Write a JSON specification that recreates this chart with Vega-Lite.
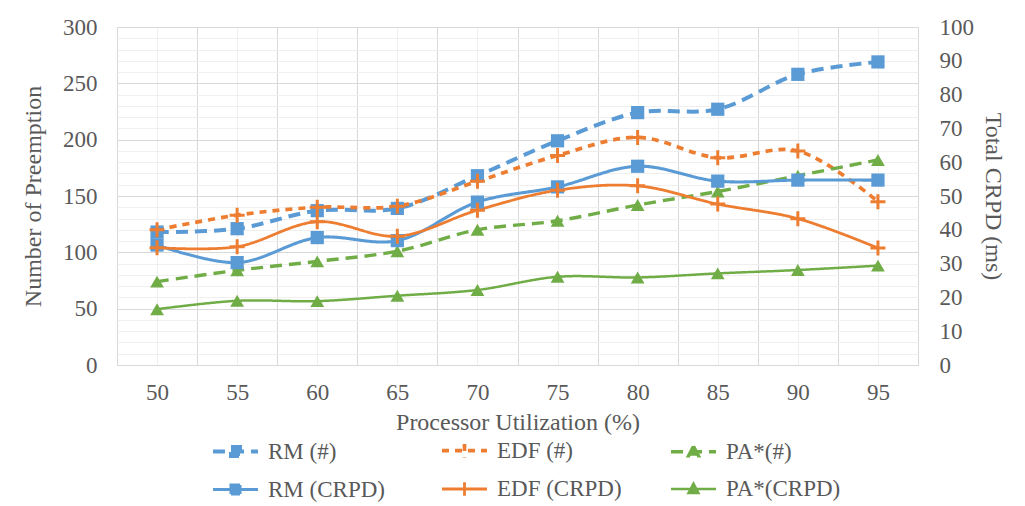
{
  "$schema": "https://vega.github.io/schema/vega-lite/v6.json",
  "autosize": {"type": "none"},
  "width": 801,
  "height": 338,
  "padding": {"left": 117, "top": 27, "right": 107, "bottom": 141},
  "background": "#ffffff",
  "config": {
    "font": "Liberation Serif, Times New Roman, serif",
    "view": {"stroke": "#d9d9d9", "strokeWidth": 1},
    "axis": {"labelFont": "Liberation Serif, Times New Roman, serif", "titleFont": "Liberation Serif, Times New Roman, serif", "labelColor": "#595959", "titleColor": "#595959", "labelFontSize": 23, "titleFontSize": 24, "titleFontWeight": "normal", "domain": false, "ticks": false, "tickSize": 0},
    "legend": {"labelFont": "Liberation Serif, Times New Roman, serif"}
  },
  "datasets": {
    "counts": [
      {"u": 50, "series": "RM (#)", "v": 118}, {"u": 55, "series": "RM (#)", "v": 121}, {"u": 60, "series": "RM (#)", "v": 137}, {"u": 65, "series": "RM (#)", "v": 139}, {"u": 70, "series": "RM (#)", "v": 168}, {"u": 75, "series": "RM (#)", "v": 199}, {"u": 80, "series": "RM (#)", "v": 224}, {"u": 85, "series": "RM (#)", "v": 227}, {"u": 90, "series": "RM (#)", "v": 258}, {"u": 95, "series": "RM (#)", "v": 269},
      {"u": 50, "series": "EDF (#)", "v": 120}, {"u": 55, "series": "EDF (#)", "v": 133}, {"u": 60, "series": "EDF (#)", "v": 140}, {"u": 65, "series": "EDF (#)", "v": 141}, {"u": 70, "series": "EDF (#)", "v": 163}, {"u": 75, "series": "EDF (#)", "v": 186}, {"u": 80, "series": "EDF (#)", "v": 202}, {"u": 85, "series": "EDF (#)", "v": 184}, {"u": 90, "series": "EDF (#)", "v": 190}, {"u": 95, "series": "EDF (#)", "v": 145},
      {"u": 50, "series": "PA*(#)", "v": 74}, {"u": 55, "series": "PA*(#)", "v": 84}, {"u": 60, "series": "PA*(#)", "v": 92}, {"u": 65, "series": "PA*(#)", "v": 101}, {"u": 70, "series": "PA*(#)", "v": 120}, {"u": 75, "series": "PA*(#)", "v": 128}, {"u": 80, "series": "PA*(#)", "v": 142}, {"u": 85, "series": "PA*(#)", "v": 154}, {"u": 90, "series": "PA*(#)", "v": 168}, {"u": 95, "series": "PA*(#)", "v": 182}
    ],
    "crpd": [
      {"u": 50, "series": "RM (CRPD)", "v": 35.5}, {"u": 55, "series": "RM (CRPD)", "v": 30.3}, {"u": 60, "series": "RM (CRPD)", "v": 37.7}, {"u": 65, "series": "RM (CRPD)", "v": 36.8}, {"u": 70, "series": "RM (CRPD)", "v": 48.2}, {"u": 75, "series": "RM (CRPD)", "v": 52.7}, {"u": 80, "series": "RM (CRPD)", "v": 58.8}, {"u": 85, "series": "RM (CRPD)", "v": 54.4}, {"u": 90, "series": "RM (CRPD)", "v": 54.7}, {"u": 95, "series": "RM (CRPD)", "v": 54.7},
      {"u": 50, "series": "EDF (CRPD)", "v": 34.7}, {"u": 55, "series": "EDF (CRPD)", "v": 35.0}, {"u": 60, "series": "EDF (CRPD)", "v": 42.4}, {"u": 65, "series": "EDF (CRPD)", "v": 38.1}, {"u": 70, "series": "EDF (CRPD)", "v": 45.8}, {"u": 75, "series": "EDF (CRPD)", "v": 51.7}, {"u": 80, "series": "EDF (CRPD)", "v": 53.0}, {"u": 85, "series": "EDF (CRPD)", "v": 47.6}, {"u": 90, "series": "EDF (CRPD)", "v": 43.3}, {"u": 95, "series": "EDF (CRPD)", "v": 34.6},
      {"u": 50, "series": "PA*(CRPD)", "v": 16.5}, {"u": 55, "series": "PA*(CRPD)", "v": 19.0}, {"u": 60, "series": "PA*(CRPD)", "v": 18.9}, {"u": 65, "series": "PA*(CRPD)", "v": 20.5}, {"u": 70, "series": "PA*(CRPD)", "v": 22.2}, {"u": 75, "series": "PA*(CRPD)", "v": 26.1}, {"u": 80, "series": "PA*(CRPD)", "v": 25.9}, {"u": 85, "series": "PA*(CRPD)", "v": 27.1}, {"u": 90, "series": "PA*(CRPD)", "v": 28.1}, {"u": 95, "series": "PA*(CRPD)", "v": 29.4}
    ]
  },
  "encoding": {
    "x": {
      "field": "u", "type": "quantitative",
      "scale": {"domain": [47.5, 97.5], "nice": false, "zero": false},
      "axis": {
        "title": "Processor Utilization (%)",
        "values": [47.5, 50, 52.5, 55, 57.5, 60, 62.5, 65, 67.5, 70, 72.5, 75, 77.5, 80, 82.5, 85, 87.5, 90, 92.5, 95, 97.5],
        "labelExpr": "datum.value % 5 === 0 ? datum.label : ''",
        "labelPadding": 16, "titlePadding": 6, "labelOverlap": false,
        "grid": true,
        "gridColor": {"condition": {"test": "datum.value % 5 === 0", "value": "#efefef"}, "value": "#d9d9d9"}
      }
    },
    "color": {
      "field": "series", "type": "nominal",
      "scale": {"domain": ["RM (#)", "EDF (#)", "PA*(#)", "RM (CRPD)", "EDF (CRPD)", "PA*(CRPD)"], "range": ["#5b9bd5", "#ed7d31", "#70ad47", "#5b9bd5", "#ed7d31", "#70ad47"]},
      "legend": {
        "title": null, "orient": "none", "legendX": 94, "legendY": 399, "direction": "horizontal", "columns": 3, "gridAlign": "all", "columnPadding": 41, "rowPadding": -10,
        "labelFont": "Liberation Serif, Times New Roman, serif", "labelFontSize": 23, "labelColor": "#595959", "labelOffset": 8, "labelLimit": 300,
        "symbolSize": 2025,
        "encode": {
          "symbols": {
            "update": {
              "shape": {"signal": "indexof(datum.value,'RM')===0 ? 'M-1,0H1M-0.2,-0.2H0.2V0.2H-0.2Z' : indexof(datum.value,'EDF')===0 ? 'M-1,0H1M0,-0.3V0.3' : 'M-1,0H1M0,-0.24L0.22,0.18H-0.22Z'"},
              "size": {"value": 2025},
              "fill": {"signal": "indexof(datum.value,'RM')===0 ? '#5b9bd5' : indexof(datum.value,'EDF')===0 ? '#ed7d31' : '#70ad47'"},
              "fillOpacity": {"value": 1},
              "opacity": {"value": 1},
              "strokeWidth": {"signal": "indexof(datum.value,'EDF')===0 ? 2.5 : 4"}
            }
          }
        }
      }
    },
    "strokeDash": {
      "field": "series", "type": "nominal",
      "scale": {"domain": ["RM (#)", "EDF (#)", "PA*(#)", "RM (CRPD)", "EDF (CRPD)", "PA*(CRPD)"], "range": [[12, 7], [7, 6], [12, 7], [1, 0], [1, 0], [1, 0]]}
    }
  },
  "layer": [
    {
      "data": {"name": "counts"},
      "encoding": {
        "y": {
          "field": "v", "type": "quantitative",
          "scale": {"domain": [0, 300], "nice": false},
          "axis": {
            "title": "Number of Preemption", "orient": "left",
            "values": [0, 10, 20, 30, 40, 50, 60, 70, 80, 90, 100, 110, 120, 130, 140, 150, 160, 170, 180, 190, 200, 210, 220, 230, 240, 250, 260, 270, 280, 290, 300],
            "labelExpr": "datum.value % 50 === 0 ? datum.label : ''",
            "labelOverlap": false, "labelPadding": 20, "titlePadding": 17,
            "grid": true,
            "gridColor": {"condition": {"test": "datum.value % 50 === 0", "value": "#d9d9d9"}, "value": "#efefef"}
          }
        }
      },
      "layer": [
        {
          "mark": {"type": "line", "interpolate": "catmull-rom"},
          "encoding": {
            "strokeWidth": {"field": "series", "type": "nominal", "legend": null, "scale": {"domain": ["RM (#)", "EDF (#)", "PA*(#)", "RM (CRPD)", "EDF (CRPD)", "PA*(CRPD)"], "range": [4, 2.5, 4, 4.5, 2.5, 3.5]}}
          }
        },
        {
          "transform": [{"filter": "indexof(datum.series,'RM')===0"}],
          "mark": {"type": "point", "filled": true, "shape": "square", "size": 175, "opacity": 1},
          "encoding": {"strokeDash": null}
        },
        {
          "transform": [{"filter": "indexof(datum.series,'EDF')===0"}],
          "mark": {"type": "point", "filled": false, "shape": "M-1,0H1M0,-1V1", "size": 225, "strokeWidth": 3, "opacity": 1},
          "encoding": {"strokeDash": null}
        },
        {
          "transform": [{"filter": "indexof(datum.series,'PA')===0"}],
          "mark": {"type": "point", "filled": true, "shape": "triangle-up", "size": 190, "opacity": 1},
          "encoding": {"strokeDash": null}
        }
      ]
    },
    {
      "data": {"name": "crpd"},
      "encoding": {
        "y": {
          "field": "v", "type": "quantitative",
          "scale": {"domain": [0, 100], "nice": false},
          "axis": {
            "title": "Total CRPD (ms)", "orient": "right",
            "values": [0, 10, 20, 30, 40, 50, 60, 70, 80, 90, 100],
            "labelPadding": 21, "titlePadding": 7, "grid": false
          }
        }
      },
      "layer": [
        {
          "mark": {"type": "line", "interpolate": "catmull-rom"},
          "encoding": {
            "strokeWidth": {"field": "series", "type": "nominal", "legend": null, "scale": {"domain": ["RM (#)", "EDF (#)", "PA*(#)", "RM (CRPD)", "EDF (CRPD)", "PA*(CRPD)"], "range": [4, 2.5, 4, 4.5, 2.5, 3.5]}}
          }
        },
        {
          "transform": [{"filter": "indexof(datum.series,'RM')===0"}],
          "mark": {"type": "point", "filled": true, "shape": "square", "size": 175, "opacity": 1},
          "encoding": {"strokeDash": null}
        },
        {
          "transform": [{"filter": "indexof(datum.series,'EDF')===0"}],
          "mark": {"type": "point", "filled": false, "shape": "M-1,0H1M0,-1V1", "size": 225, "strokeWidth": 3, "opacity": 1},
          "encoding": {"strokeDash": null}
        },
        {
          "transform": [{"filter": "indexof(datum.series,'PA')===0"}],
          "mark": {"type": "point", "filled": true, "shape": "triangle-up", "size": 190, "opacity": 1},
          "encoding": {"strokeDash": null}
        }
      ]
    }
  ],
  "resolve": {"scale": {"y": "independent"}}
}
